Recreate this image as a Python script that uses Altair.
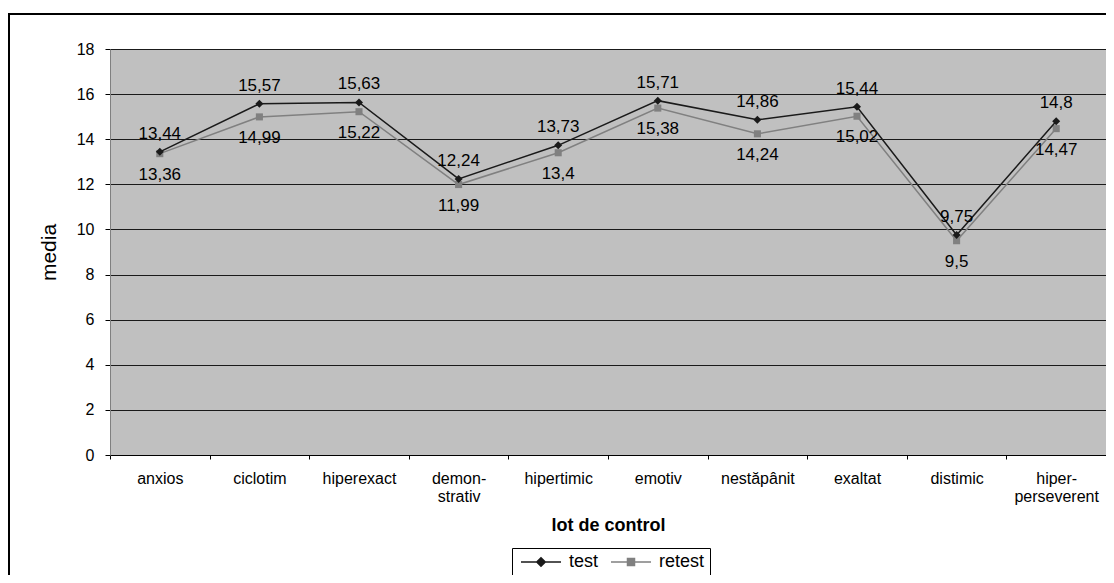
import altair as alt
import pandas as pd

categories = ["anxios", "ciclotim", "hiperexact", "demon-\nstrativ", "hipertimic",
              "emotiv", "nestăpânit", "exaltat", "distimic", "hiper-\nperseverent"]
test = [13.44, 15.57, 15.63, 12.24, 13.73, 15.71, 14.86, 15.44, 9.75, 14.8]
retest = [13.36, 14.99, 15.22, 11.99, 13.4, 15.38, 14.24, 15.02, 9.5, 14.47]
series_names = ["test", "retest"]
y_ticks = [0, 2, 4, 6, 8, 10, 12, 14, 16, 18]

rows = []
for c, t, r in zip(categories, test, retest):
    rows.append({"cat": c, "series": "test", "value": t})
    rows.append({"cat": c, "series": "retest", "value": r})
df = pd.DataFrame(rows)

FONT = "Liberation Sans"
C_TEST = "#1a1a1a"
C_RETEST = "#808080"

x_enc = alt.X("cat:N", sort=categories,
              scale=alt.Scale(domain=categories, paddingInner=0, paddingOuter=0),
              axis=alt.Axis(title="lot de control", labelAngle=0, tickBand="extent",
                            labelExpr="split(datum.label, '\\n')", labelLineHeight=18,
                            labelFontSize=16, labelFont=FONT, labelColor="#000000",
                            labelPadding=11, tickSize=4, tickColor="#000000",
                            domainColor="#000000", titleFont=FONT, titleFontSize=18,
                            titleFontWeight="bold", titlePadding=12, titleColor="#000000",
                            grid=False))
y_enc = alt.Y("value:Q", scale=alt.Scale(domain=[0, 18], nice=False),
              axis=alt.Axis(title="media", values=y_ticks, grid=True, gridColor="#1a1a1a",
                            gridWidth=1.2, tickSize=5, tickColor="#000000",
                            domainColor="#808080", labelFontSize=16, labelFont=FONT,
                            labelColor="#000000", labelPadding=11, titleFont=FONT,
                            titleFontSize=21, titleFontWeight="normal", titleColor="#000000",
                            titlePadding=17))

base = alt.Chart(df)

def series_layers(name, color, shape, size, dy):
    b = base.transform_filter(alt.datum.series == name)
    line = b.mark_line(color=color, strokeWidth=1.5).encode(x=x_enc, y=y_enc)
    pts = b.mark_point(shape=shape, filled=True, size=size, color=color, opacity=1).encode(x=x_enc, y=y_enc)
    txt = b.transform_calculate(lbl="replace(toString(datum.value), '.', ',')").mark_text(
        font=FONT, fontSize=17, dy=dy, color="#000000").encode(x=x_enc, y=y_enc, text="lbl:N")
    return [line, pts, txt]

path_test = "M-1,0L7,0M3,-0.85L3.85,0L3,0.85L2.15,0Z"
path_retest = "M-1,0L7,0M2.3,-0.7L3.7,-0.7L3.7,0.7L2.3,0.7Z"

legend_layer = base.transform_filter("false").mark_point(filled=True, opacity=1, strokeWidth=1.5).encode(
    x=x_enc, y=y_enc,
    fill=alt.Fill("series:N", scale=alt.Scale(domain=series_names, range=[C_TEST, C_RETEST]),
                  legend=alt.Legend(title=None)),
    stroke=alt.Stroke("series:N", scale=alt.Scale(domain=series_names, range=[C_TEST, C_RETEST]),
                      legend=alt.Legend(title=None)),
    shape=alt.Shape("series:N", scale=alt.Scale(domain=series_names, range=[path_test, path_retest]),
                    legend=alt.Legend(title=None)),
)

frame = alt.Chart(alt.Data(values=[{"a": 1}])).mark_rect(
    fill=None, stroke="#000000", strokeWidth=2, clip=False).encode(
    x=alt.value(-101), x2=alt.value(1100), y=alt.value(-35), y2=alt.value(600))

layers = [frame] + series_layers("retest", C_RETEST, "square", 50, 21) + \
    series_layers("test", C_TEST, "diamond", 64, -18) + [legend_layer]

chart = alt.layer(*layers).properties(
    width=996, height=406,
    autosize=alt.AutoSizeParams(type="none"),
    padding={"left": 102, "top": 41, "right": 0, "bottom": 120},
    background="#ffffff",
).configure_view(
    fill="#c0c0c0", stroke="#808080", strokeWidth=1
).configure_legend(
    orient="none", legendX=402, legendY=499, direction="horizontal",
    padding=5, strokeColor="#000000", strokeWidth=1, fillColor="#ffffff",
    labelFont=FONT, labelFontSize=18, labelColor="#000000", labelOffset=34,
    symbolSize=100, symbolStrokeWidth=1.5, columnPadding=8, cornerRadius=0,
)

chart.save("out.html", embed_options={"renderer": "svg", "actions": False})
